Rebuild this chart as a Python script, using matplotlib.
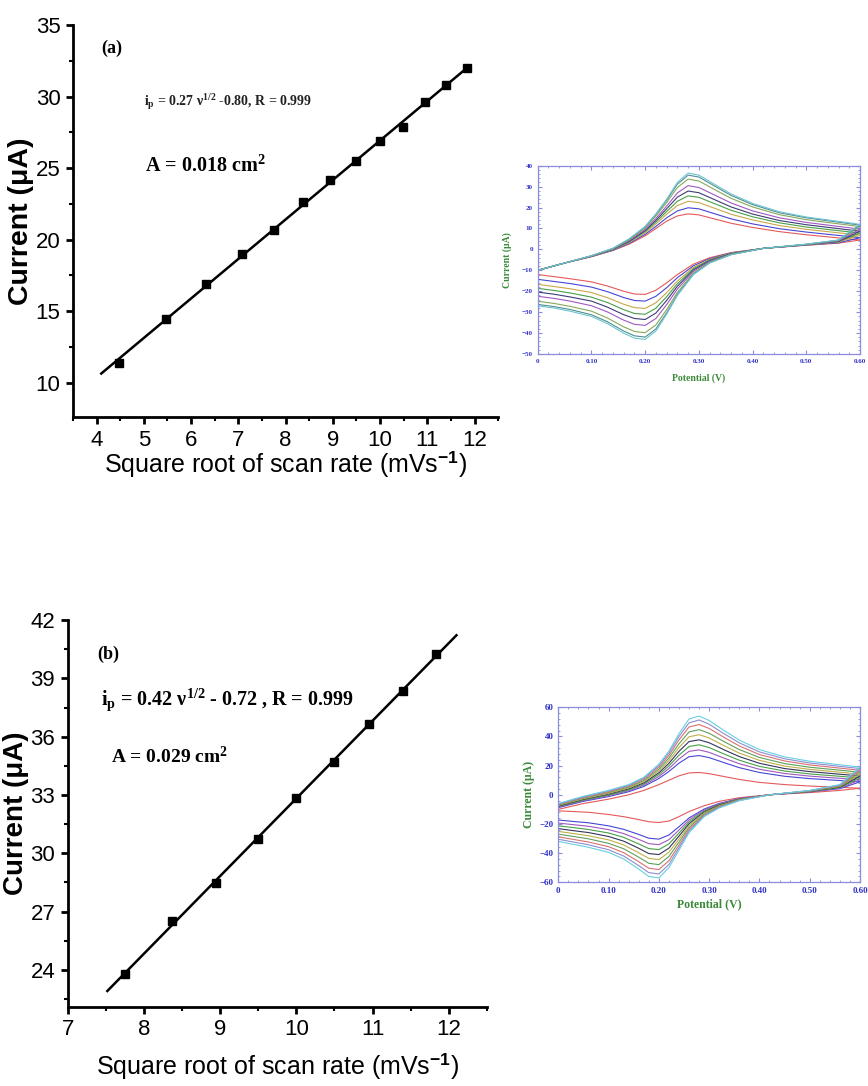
import matplotlib.pyplot as plt
import numpy as np
from matplotlib.ticker import MultipleLocator, FixedLocator

plt.rcParams['font.family'] = ['Liberation Sans', 'DejaVu Sans']
plt.rcParams['mathtext.fontset'] = 'custom'
plt.rcParams['mathtext.rm'] = 'Liberation Serif:bold'
plt.rcParams['mathtext.it'] = 'Liberation Serif:bold:italic'
plt.rcParams['mathtext.bf'] = 'Liberation Serif:bold'
plt.rcParams['mathtext.sf'] = 'Liberation Sans:bold'

# ---- peak current vs square root of scan rate ----
sqrt_v_a = [4.47, 5.48, 6.32, 7.07, 7.75, 8.37, 8.94, 9.49, 10.0, 10.49, 10.95, 11.40, 11.83]
ip_a = [11.4, 14.45, 16.9, 19.0, 20.7, 22.6, 24.15, 25.5, 26.9, 27.9, 29.6, 30.8, 32.0]

sqrt_v_b = [7.75, 8.37, 8.94, 9.49, 10.0, 10.49, 10.95, 11.40, 11.83]
ip_b = [23.8, 26.5, 28.45, 30.75, 32.85, 34.7, 36.65, 38.35, 40.25]

# ---- cyclic voltammograms (inset) ----
E_fwd = [0.00, 0.05, 0.10, 0.14, 0.17, 0.20, 0.22, 0.24, 0.26, 0.28, 0.30, 0.33, 0.36, 0.40, 0.45, 0.50, 0.60]
E_rev = [0.60, 0.56, 0.50, 0.42, 0.36, 0.32, 0.29, 0.26, 0.24, 0.22, 0.20, 0.18, 0.16, 0.13, 0.10, 0.06, 0.03, 0.00]

cv_a_fwd = [
    [-10, -6.5, -3.5, -0.5, 2.5, 6.5, 10.0, 13.5, 16.0, 17.0, 16.5, 14.5, 12.5, 10.5, 8.5, 7.0, 4.5],
    [-10, -6.5, -3.4, -0.4, 2.9, 7.2, 11.0, 15.1, 18.4, 19.9, 19.4, 17.0, 14.6, 12.2, 9.9, 8.3, 5.6],
    [-10, -6.5, -3.3, -0.2, 3.3, 7.9, 12.2, 16.8, 21.0, 23.0, 22.4, 19.6, 16.8, 14.1, 11.4, 9.6, 6.8],
    [-10, -6.5, -3.3, -0.1, 3.6, 8.5, 13.1, 18.1, 23.0, 25.6, 24.9, 21.8, 18.7, 15.6, 12.7, 10.7, 7.8],
    [-10, -6.5, -3.2, 0.1, 3.9, 9.0, 13.9, 19.4, 25.0, 27.9, 27.1, 23.7, 20.3, 16.9, 13.8, 11.8, 8.7],
    [-10, -6.5, -3.2, 0.2, 4.2, 9.6, 14.8, 20.7, 27.0, 30.5, 29.6, 25.9, 22.2, 18.4, 15.1, 12.9, 9.7],
    [-10, -6.5, -3.1, 0.4, 4.6, 10.3, 16.0, 22.4, 29.6, 33.6, 32.7, 28.5, 24.4, 20.3, 16.6, 14.2, 10.9],
    [-10, -6.5, -3.0, 0.5, 4.9, 10.8, 16.7, 23.5, 31.2, 35.5, 34.6, 30.2, 25.8, 21.4, 17.5, 15.1, 11.6],
    [-10, -6.5, -3.0, 0.5, 5.0, 11.0, 17.0, 24.0, 32.0, 36.5, 35.5, 31.0, 26.5, 22.0, 18.0, 15.5, 12.0],
]
cv_a_rev = [
    [4.5, 3.0, 2.0, 0.5, -1.5, -4.0, -7.0, -12.0, -16.0, -19.5, -21.5, -21.3, -20.0, -17.5, -15.5, -14.0, -13.0, -12.0],
    [5.6, 3.2, 2.1, 0.5, -1.7, -4.4, -7.8, -13.5, -18.3, -22.4, -24.7, -24.4, -23.0, -20.2, -18.0, -16.3, -15.3, -14.3],
    [6.8, 3.5, 2.2, 0.5, -1.8, -4.8, -8.6, -15.1, -20.7, -25.5, -28.2, -27.8, -26.2, -23.1, -20.6, -18.8, -17.7, -16.7],
    [7.8, 3.7, 2.2, 0.5, -1.9, -5.1, -9.2, -16.4, -22.6, -28.1, -31.0, -30.6, -28.8, -25.4, -22.8, -20.8, -19.6, -18.6],
    [8.7, 3.8, 2.3, 0.5, -2.1, -5.4, -9.8, -17.6, -24.4, -30.4, -33.5, -33.0, -31.2, -27.6, -24.7, -22.7, -21.4, -20.4],
    [9.7, 4.0, 2.3, 0.5, -2.2, -5.7, -10.5, -18.9, -26.4, -33.0, -36.3, -35.8, -33.8, -29.9, -26.9, -24.7, -23.4, -22.4],
    [10.9, 4.3, 2.4, 0.5, -2.4, -6.1, -11.3, -20.5, -28.8, -36.1, -39.8, -39.2, -37.0, -32.8, -29.5, -27.2, -25.8, -24.8],
    [11.6, 4.4, 2.5, 0.5, -2.5, -6.4, -11.8, -21.5, -30.3, -38.0, -41.9, -41.3, -39.0, -34.6, -31.2, -28.7, -27.3, -26.3],
    [12.0, 4.5, 2.5, 0.5, -2.5, -6.5, -12.0, -22.0, -31.0, -39.0, -43.0, -42.4, -40.0, -35.5, -32.0, -29.5, -28.0, -27.0],
]

cv_b_fwd = [
    [-10, -6.0, -3.0, 0.0, 3.0, 7.0, 10.0, 13.0, 15.0, 15.3, 14.5, 12.5, 10.5, 8.5, 7.0, 6.0, 4.5],
    [-8.8, -4.5, -1.2, 2.1, 5.7, 11.2, 16.0, 21.7, 26.1, 26.9, 25.5, 22.0, 18.6, 15.3, 12.7, 11.1, 8.9],
    [-8.4, -4.0, -0.6, 2.8, 6.6, 12.6, 18.0, 24.6, 29.8, 30.8, 29.1, 25.1, 21.3, 17.5, 14.6, 12.8, 10.3],
    [-8.0, -3.6, -0.1, 3.4, 7.4, 13.9, 19.8, 27.2, 33.1, 34.3, 32.4, 27.9, 23.7, 19.5, 16.3, 14.3, 11.6],
    [-7.7, -3.1, 0.5, 4.1, 8.2, 15.1, 21.6, 29.8, 36.5, 37.7, 35.7, 30.8, 26.2, 21.6, 18.0, 15.9, 12.9],
    [-7.3, -2.7, 1.0, 4.7, 9.0, 16.4, 23.4, 32.4, 39.8, 41.2, 39.0, 33.6, 28.6, 23.6, 19.7, 17.4, 14.2],
    [-7.0, -2.2, 1.6, 5.3, 9.8, 17.6, 25.2, 35.0, 43.1, 44.7, 42.2, 36.4, 31.0, 25.6, 21.4, 18.9, 15.5],
    [-6.6, -1.8, 2.1, 6.0, 10.7, 18.9, 27.0, 37.7, 46.5, 48.2, 45.5, 39.3, 33.5, 27.6, 23.2, 20.5, 16.8],
    [-6.3, -1.4, 2.6, 6.5, 11.4, 20.0, 28.6, 40.0, 49.4, 51.3, 48.4, 41.8, 35.6, 29.4, 24.7, 21.8, 18.0],
    [-6.0, -1.0, 3.0, 7.0, 12.0, 21.0, 30.0, 42.0, 52.0, 54.0, 51.0, 44.0, 37.5, 31.0, 26.0, 23.0, 19.0],
]
cv_b_rev = [
    [4.5, 3.0, 1.5, 0.0, -2.0, -4.5, -7.5, -11.5, -15.0, -18.0, -19.0, -18.5, -17.0, -15.0, -13.5, -12.0, -11.5, -11.0],
    [8.9, 4.2, 2.0, 0.0, -2.6, -5.9, -9.8, -15.9, -21.9, -27.6, -30.4, -29.8, -27.2, -23.7, -21.3, -19.2, -18.3, -17.3],
    [10.3, 4.6, 2.1, 0.0, -2.8, -6.3, -10.5, -17.3, -24.2, -30.8, -34.2, -33.5, -30.6, -26.6, -23.9, -21.6, -20.5, -19.4],
    [11.6, 5.0, 2.2, 0.0, -3.0, -6.7, -11.2, -18.6, -26.3, -33.7, -37.6, -36.9, -33.7, -29.2, -26.2, -23.8, -22.5, -21.3],
    [12.9, 5.3, 2.4, 0.0, -3.2, -7.1, -11.9, -19.9, -28.3, -36.6, -41.0, -40.3, -36.7, -31.8, -28.6, -25.9, -24.6, -23.2],
    [14.2, 5.7, 2.5, 0.0, -3.3, -7.5, -12.5, -21.2, -30.4, -39.4, -44.5, -43.6, -39.8, -34.4, -30.9, -28.1, -26.6, -25.1],
    [15.5, 6.0, 2.6, 0.0, -3.5, -7.9, -13.2, -22.5, -32.5, -42.3, -47.9, -47.0, -42.8, -37.0, -33.3, -30.2, -28.6, -27.0],
    [16.8, 6.4, 2.8, 0.0, -3.7, -8.3, -13.9, -23.8, -34.6, -45.2, -51.3, -50.4, -45.9, -39.7, -35.6, -32.4, -30.6, -28.9],
    [18.0, 6.7, 2.9, 0.0, -3.9, -8.7, -14.5, -25.0, -36.4, -47.8, -54.3, -53.4, -48.6, -42.0, -37.7, -34.3, -32.4, -30.5],
    [19.0, 7.0, 3.0, 0.0, -4.0, -9.0, -15.0, -26.0, -38.0, -50.0, -57.0, -56.0, -51.0, -44.0, -39.5, -36.0, -34.0, -32.0],
]

colors_a = ['#e45a5a', '#4646d6', '#c8a848', '#48a048', '#3c3c78', '#a058c0', '#88a858', '#4f8f8f', '#6cc4d4']
colors_b = ['#e45a5a', '#4646d6', '#a058c0', '#48a048', '#34345c', '#c0b048', '#5fa05f', '#d87070', '#8c8cd4', '#66d0e0']

E_ticks = [0, 0.1, 0.2, 0.3, 0.4, 0.5, 0.6]
E_labels = ['0', '0.10', '0.20', '0.30', '0.40', '0.50', '0.60']

XLABEL = 'Square root of scan rate (mVs$^{\\mathsf{-1}}$)'
serif = 'Liberation Serif'


def main_panel(ax, x, y, fit_x, xlim, ylim, xstep, ystep, ylab_size, xpad, ypad):
    ax.plot(x, y, 's', color='black', ms=6, zorder=3)
    k, b = np.polyfit(x, y, 1)
    xs = np.array(fit_x)
    ax.plot(xs, k * xs + b, color='black', lw=1.8)
    ax.set_xlim(*xlim)
    ax.set_ylim(*ylim)
    ax.xaxis.set_major_locator(MultipleLocator(xstep))
    ax.xaxis.set_minor_locator(MultipleLocator(xstep / 2))
    ax.yaxis.set_major_locator(MultipleLocator(ystep))
    ax.yaxis.set_minor_locator(MultipleLocator(ystep / 2))
    ax.spines['top'].set_visible(False)
    ax.spines['right'].set_visible(False)
    for s in ['left', 'bottom']:
        ax.spines[s].set_linewidth(2.0)
    ax.tick_params(which='major', direction='out', length=5, width=2.0, labelsize=16, pad=4)
    ax.tick_params(which='minor', direction='out', length=3, width=1.5)
    ax.set_xlabel(XLABEL, fontsize=18, labelpad=xpad)
    ax.set_ylabel('Current (μA)', fontsize=ylab_size, fontweight='bold', labelpad=ypad)


def cv_inset(ax, fwd, rev, colors, ylim, ystep, tsize, lsize, xpad, ypad):
    for yf, yr, c in zip(fwd, rev, colors):
        ax.plot(E_fwd, yf, color=c, lw=0.8)
        ax.plot(E_rev, yr, color=c, lw=0.8)
    ax.set_xlim(0, 0.6)
    ax.set_ylim(*ylim)
    ax.xaxis.set_major_locator(FixedLocator(E_ticks))
    ax.set_xticklabels(E_labels)
    ax.xaxis.set_minor_locator(MultipleLocator(0.02))
    ax.yaxis.set_major_locator(MultipleLocator(ystep))
    ax.yaxis.set_minor_locator(MultipleLocator(ystep / 5))
    for s in ax.spines.values():
        s.set_color('#8c8cdc')
        s.set_linewidth(0.9)
    ax.tick_params(which='both', direction='in', top=True, right=True, color='#8c8cdc')
    ax.tick_params(which='major', length=3, width=0.8, labelsize=tsize, labelcolor='#3030c8')
    ax.tick_params(which='minor', length=1.5, width=0.6)
    for lab in ax.get_xticklabels() + ax.get_yticklabels():
        lab.set_fontfamily(serif)
        lab.set_fontweight('bold')
    ax.set_xlabel('Potential (V)', fontsize=lsize, fontweight='bold', family=serif,
                  color='#3a8a3a', labelpad=xpad)
    ax.set_ylabel('Current (μA)', fontsize=lsize, fontweight='bold', family=serif,
                  color='#3a8a3a', labelpad=ypad)


fig = plt.figure(figsize=(8.68, 10.86), dpi=100)

# panel (a)
ax_a = fig.add_axes([0.084, 0.616, 0.490, 0.361])
main_panel(ax_a, sqrt_v_a, ip_a, [4.1, 11.85], (3.5, 12.5), (7.6, 35), 1, 5, 20.5, -1, 1)
ax_a.text(0.067, 0.941, '(a)', transform=ax_a.transAxes, fontsize=13, fontweight='bold',
          family=serif, va='center')
ax_a.text(0.166, 0.804, 'i$_{\\mathrm{p}}$ = 0.27 ν$^{\\mathrm{1/2}}$ -0.80, R = 0.999',
          transform=ax_a.transAxes, fontsize=10, fontweight='bold', family=serif,
          color='#222222', va='center')
ax_a.text(0.169, 0.640, 'A = 0.018 cm$^{\\mathrm{2}}$', transform=ax_a.transAxes,
          fontsize=14.5, fontweight='bold', family=serif, va='center')

ins_a = fig.add_axes([0.6195, 0.674, 0.3713, 0.1734])
cv_inset(ins_a, cv_a_fwd, cv_a_rev, colors_a, (-50, 40), 10, 5, 7, 7, 7)

# panel (b)
ax_b = fig.add_axes([0.078, 0.073, 0.483, 0.356])
main_panel(ax_b, sqrt_v_b, ip_b, [7.52, 12.1], (7, 12.5), (22.1, 42), 1, 3, 20, 8, 1)
ax_b.text(0.070, 0.912, '(b)', transform=ax_b.transAxes, fontsize=13, fontweight='bold',
          family=serif, va='center')
ax_b.text(0.079, 0.793, 'i$_{\\mathrm{p}}$ = 0.42 ν$^{\\mathrm{1/2}}$ - 0.72 , R = 0.999',
          transform=ax_b.transAxes, fontsize=14.5, fontweight='bold', family=serif, va='center')
ax_b.text(0.103, 0.647, 'A = 0.029 cm$^{\\mathrm{2}}$', transform=ax_b.transAxes,
          fontsize=14, fontweight='bold', family=serif, va='center')

ins_b = fig.add_axes([0.6432, 0.1876, 0.3476, 0.1611])
cv_inset(ins_b, cv_b_fwd, cv_b_rev, colors_b, (-60, 60), 20, 6.5, 8.5, 2, 3)

fig.savefig('out.png', dpi=100)
